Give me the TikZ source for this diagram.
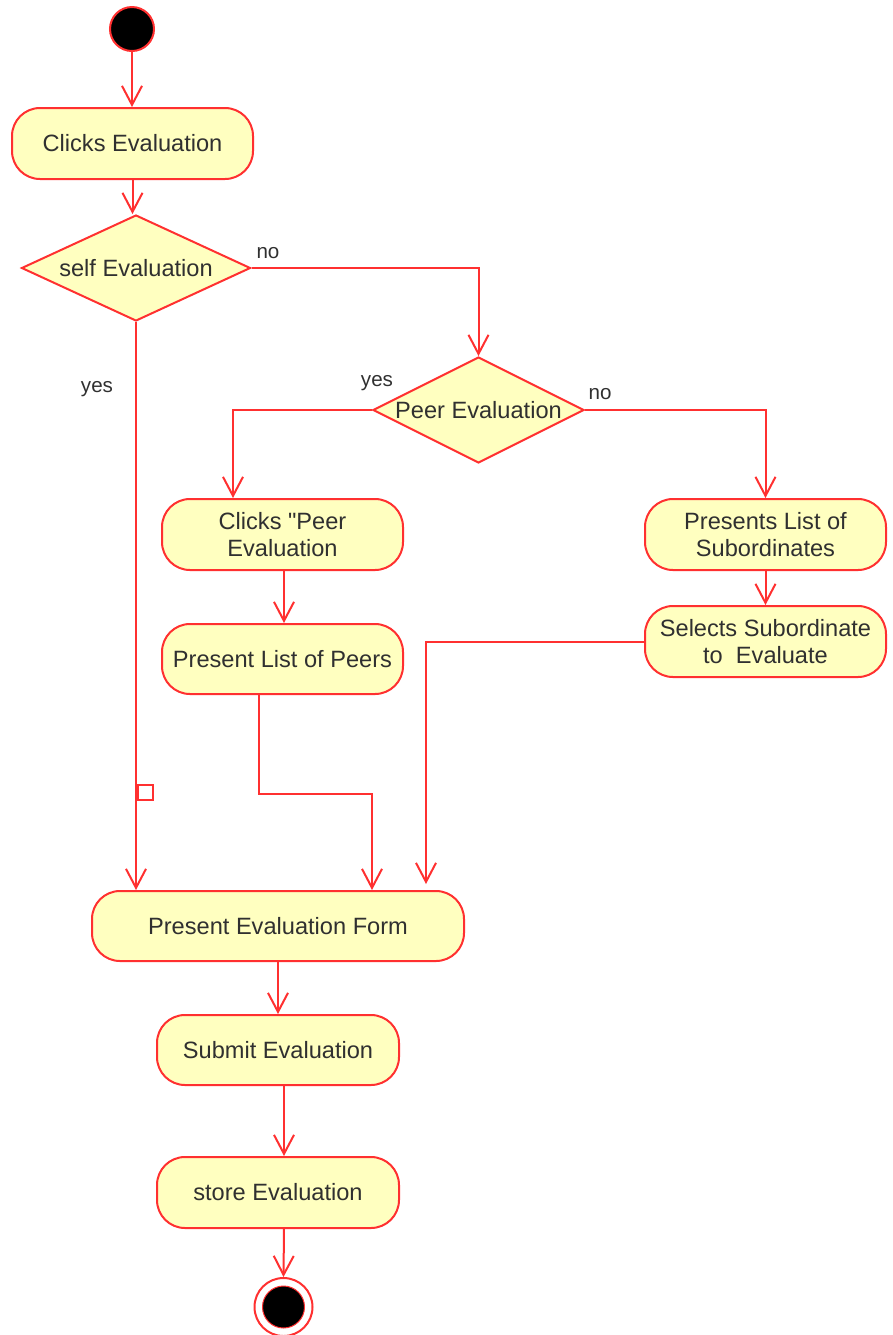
\documentclass[tikz,border=0pt]{standalone}
\usepackage{fontspec}
\setmainfont{Liberation Sans}[Ligatures=TeXOff]
\usetikzlibrary{shapes.geometric,arrows.meta,calc}
\definecolor{edgered}{HTML}{FF3030}
\definecolor{boxfill}{HTML}{FFFFC0}
\definecolor{ink}{HTML}{303030}
\begin{document}
\begin{tikzpicture}[x=0.5pt,y=-0.5pt,
  every node/.style={text=ink,font=\fontsize{11.8}{13.5}\selectfont},
  action/.style={draw=edgered,fill=boxfill,line width=1pt,rounded corners=14pt,
    minimum width=120.5pt,minimum height=35.5pt,align=center,inner sep=2pt},
  decision/.style={draw=edgered,fill=boxfill,line width=1pt,diamond,inner sep=0pt,
    shape aspect=2.16,minimum width=114.5pt,minimum height=53pt},
  flow/.style={draw=edgered,line width=1pt,-{Straight Barb[length=9.5pt,width=10pt]}},
  guard/.style={font=\fontsize{10.3}{12}\selectfont}]
\useasboundingbox (0,0) rectangle (893,1335);

% start and end
\node[circle,draw=edgered,fill=black,line width=1pt,minimum size=22pt,inner sep=0pt] (start) at (132,29) {};
\node[circle,draw=edgered,fill=white,line width=1pt,minimum size=29pt,inner sep=0pt] (final) at (283.5,1307) {};
\node[circle,draw=edgered,fill=black,line width=0.5pt,minimum size=21pt,inner sep=0pt] (finaldot) at (final.center) {};

% actions and decisions
\node[action] (clicks) at (132.5,143.5) {Clicks Evaluation};
\node[decision] (self) at (136,268) {self Evaluation};
\node[decision,shape aspect=2,minimum width=105.5pt] (peer) at (478.5,410) {Peer Evaluation};
\node[action] (cpeer) at (282.5,534.5) {Clicks "Peer\\Evaluation};
\node[action,minimum height=35pt] (plp) at (282.5,659) {Present List of Peers};
\node[action] (pls) at (765.5,534.5) {Presents List of\\Subordinates};
\node[action] (sse) at (765.5,641.5) {Selects Subordinate\\to\ \ Evaluate};
\node[action,minimum width=186pt,minimum height=35pt] (pef) at (278,926) {Present Evaluation Form};
\node[action,minimum width=121pt,minimum height=35pt] (sub) at (278,1050) {Submit Evaluation};
\node[action,minimum width=121pt] (store) at (278,1192.5) {store Evaluation};

% connectors
\draw[flow] (start.south) -- (clicks.north -| start.south);
\draw[flow] (clicks.south) -- (clicks.south |- self.north);
\draw[flow] (self.east) -| (peer.north);
\node[guard,anchor=base] (lno1) at (268,258) {no};
\draw[flow] (peer.west) -| ($(cpeer.north)+(-49.5,0)$);
\node[guard,anchor=base] (lyes1) at (377,386) {yes};
\draw[flow] (peer.east) -| (pls.north);
\node[guard,anchor=base] (lno2) at (600,399) {no};
\draw[flow] ($(cpeer.south)+(1.5,0)$) -- ($(plp.north)+(1.5,0)$);
\draw[flow] ($(plp.south)+(-23.5,0)$) -- ++(0,99) -| ($(pef.north)+(94,0)$);
\draw[flow] (pls.south) -- (sse.north);
\draw[flow] (sse.west) -| ($(pef.north)+(148,-6)$);
\draw[flow] (self.south) -- ($(pef.north)+(-142,0)$);
\node[guard,anchor=base] (lyes2) at (97,392) {yes};
\node[draw=edgered,fill=white,line width=1pt,minimum size=7.5pt,inner sep=0pt,anchor=north west] (waypt) at (137,784) {};
\draw[flow] (pef.south) -- (sub.north);
\draw[flow] ($(sub.south)+(6,0)$) -- ($(store.north)+(6,0)$);
\draw[flow] ($(store.south)+(6,0)$) -- (final.north);
\end{tikzpicture}
\end{document}
